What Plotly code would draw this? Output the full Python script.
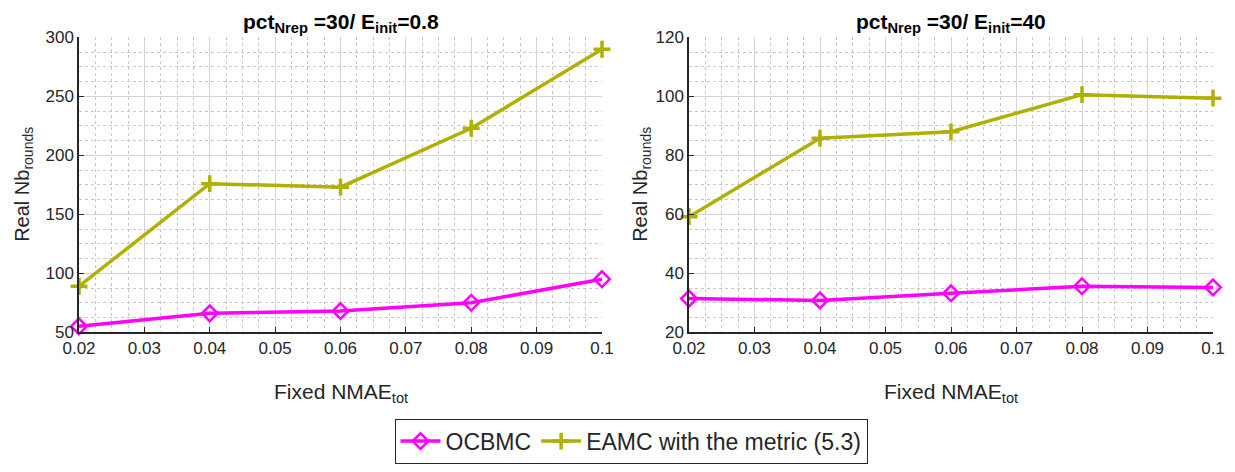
import plotly.graph_objects as go

x_vals = [0.02, 0.04, 0.06, 0.08, 0.1]
ocbmc_left = [55, 66, 68, 75, 95]
eamc_left = [89, 176, 173, 223, 290]
ocbmc_right = [31.4, 30.8, 33.2, 35.6, 35.2]
eamc_right = [59.2, 85.8, 88.0, 100.6, 99.4]

titles = ["pct<sub>Nrep</sub> =30/ E<sub>init</sub>=0.8", "pct<sub>Nrep</sub> =30/ E<sub>init</sub>=40"]
series_names = ["OCBMC", "EAMC with the metric (5.3)"]
x_ticks = [0.02, 0.03, 0.04, 0.05, 0.06, 0.07, 0.08, 0.09, 0.1]
x_tick_text = ["0.02", "0.03", "0.04", "0.05", "0.06", "0.07", "0.08", "0.09", "0.1"]

OFF = 8  # page body margin
W, H = 1235 - 2 * OFF, 472 - 2 * OFF
PINK = "#FF00FF"
OLIVE = "#B0B000"
FONT = "Liberation Sans, Arial, sans-serif"
TXT = "#262626"

def px_x(p):
    return (p - OFF) / W

def px_y(p):
    return 1 - (p - OFF) / H

fig = go.Figure()

def add_series(xa, ya, oc, ea, show):
    fig.add_trace(go.Scatter(x=x_vals, y=oc, mode="lines+markers", name=series_names[0],
                             line=dict(color=PINK, width=3.5),
                             marker=dict(symbol="diamond-open", size=12, color=PINK, line=dict(width=2.5, color=PINK)),
                             xaxis=xa, yaxis=ya, showlegend=show, cliponaxis=False))
    fig.add_trace(go.Scatter(x=x_vals, y=ea, mode="lines+markers", name=series_names[1],
                             line=dict(color=OLIVE, width=3.5),
                             marker=dict(symbol="cross-thin", size=12, color=OLIVE, line=dict(width=3.5, color=OLIVE)),
                             xaxis=xa, yaxis=ya, showlegend=show, cliponaxis=False))

add_series("x", "y", ocbmc_left, eamc_left, True)
add_series("x2", "y2", ocbmc_right, eamc_right, False)

y0 = px_y(338)
y1 = px_y(38)

def xaxis_cfg(d0, d1, anchor):
    return dict(domain=[d0, d1], anchor=anchor, range=[0.02, 0.1], tickvals=x_ticks, ticktext=x_tick_text,
                showline=True, linecolor=TXT, linewidth=1.5, ticks="inside", ticklen=5, tickcolor=TXT,
                showgrid=True, gridcolor="#d4d4d4", gridwidth=1, zeroline=False,
                tickfont=dict(family=FONT, size=17, color=TXT),
                minor=dict(dtick=0.0025, tick0=0.02, showgrid=True, gridcolor="#c8c8c8", griddash="dot", gridwidth=1, ticks=""),
                automargin=False)

def yaxis_cfg(anchor, rng, dtick, mdt):
    return dict(domain=[y0, y1], anchor=anchor, range=rng, dtick=dtick, tick0=rng[0],
                showline=True, linecolor=TXT, linewidth=1.5, ticks="inside", ticklen=5, tickcolor=TXT,
                showgrid=True, gridcolor="#d4d4d4", gridwidth=1, zeroline=False,
                tickfont=dict(family=FONT, size=17, color=TXT),
                minor=dict(dtick=mdt, tick0=rng[0], showgrid=True, gridcolor="#c8c8c8", griddash="dot", gridwidth=1, ticks=""),
                automargin=False)

lx0, lx1 = px_x(79), px_x(602)
rx0, rx1 = px_x(689), px_x(1213)

fig.update_layout(
    width=W, height=H, margin=dict(l=0, r=0, t=0, b=0),
    paper_bgcolor="white", plot_bgcolor="white",
    xaxis=xaxis_cfg(lx0, lx1, "y"),
    yaxis=yaxis_cfg("x", [50, 300], 50, 12.5),
    xaxis2=xaxis_cfg(rx0, rx1, "y2"),
    yaxis2=yaxis_cfg("x2", [20, 120], 20, 5),
    legend=dict(orientation="h", x=px_x(631), xanchor="center", y=px_y(426), yanchor="top",
                bordercolor=TXT, borderwidth=1, bgcolor="white",
                font=dict(family=FONT, size=23, color=TXT), itemwidth=40, tracegroupgap=0),
    showlegend=True,
)

annots = []
for cx, t in [((lx0 + lx1) / 2, titles[0]), ((rx0 + rx1) / 2, titles[1])]:
    annots.append(dict(x=cx, y=1.0, xref="paper", yref="paper", text="<b>" + t + "</b>",
                       showarrow=False, font=dict(family=FONT, size=21, color="black"), xanchor="center", yanchor="top"))
for cx in [(lx0 + lx1) / 2, (rx0 + rx1) / 2]:
    annots.append(dict(x=cx, y=px_y(400), xref="paper", yref="paper", text="Fixed NMAE<sub>tot</sub>",
                       showarrow=False, font=dict(family=FONT, size=21, color=TXT), xanchor="center", yanchor="middle"))
for px in [24, 642]:
    annots.append(dict(x=px_x(px), y=(y0 + y1) / 2, xref="paper", yref="paper", text="Real Nb<sub>rounds</sub>",
                       textangle=-90, showarrow=False, font=dict(family=FONT, size=20, color=TXT),
                       xanchor="center", yanchor="middle"))
fig.update_layout(annotations=annots)

fig.write_html("out.html")
